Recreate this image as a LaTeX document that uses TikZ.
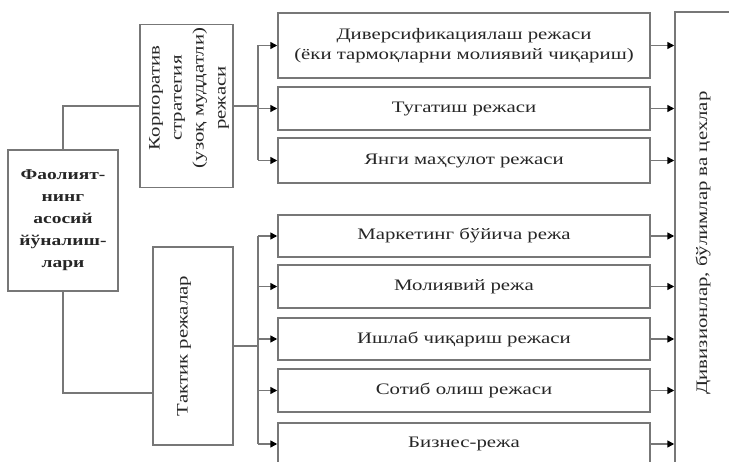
\documentclass[tikz,border=0pt]{standalone}
\usepackage{fontspec}
\setmainfont{Liberation Serif}[FakeStretch=1.3]
\usetikzlibrary{arrows.meta,calc}
\definecolor{ln}{HTML}{777777}
\definecolor{tx}{HTML}{262626}
\begin{document}
\begin{tikzpicture}[x=1pt,y=1pt,
  box/.style={draw=ln,line width=1.5pt,fill=white,text=tx,align=center,inner sep=0pt,
    font=\fontsize{16}{20}\selectfont},
  wide/.style={box,minimum width=372pt},
  vtext/.style={rotate=90,text=tx,align=center,inner sep=0pt,font=\fontsize{16}{22}\selectfont},
  conn/.style={draw=ln,line width=1.5pt},
  arr/.style={conn,-{Triangle[length=7pt,width=7pt,color=black]}}
]
\useasboundingbox (0,0) rectangle (729,-462);

% left box
\node[box,minimum width=110pt,minimum height=141pt,
  font=\bfseries\fontsize{15}{22}\selectfont] (L) at (63,-220.5)
  {Фаолият-\\нинг\\асосий\\йўналиш-\\лари};

% strategic box
\node[box,minimum width=93pt,minimum height=163pt] (C) at (186.5,-106) {};
\node[vtext] (Ct) at (189,-98) {Корпоратив\\стратегия\\(узоқ муддатли)\\режаси};

% tactical box
\node[box,minimum width=80pt,minimum height=198pt] (T) at (193,-346) {};
\node[vtext] (Tt) at (184,-346) {Тактик режалар};

% right box
\node[box,minimum width=60pt,minimum height=458pt] (R) at (705,-241) {};
\node[vtext] (Rt) at (703,-243) {Дивизионлар, бўлимлар ва цехлар};

% plan boxes
\node[wide,minimum height=65pt] (b1) at (464,-45.5)
  {Диверсификациялаш режаси\\(ёки тармоқларни молиявий чиқариш)};
\node[wide,minimum height=43pt] (b2) at (464,-108.5) {Тугатиш режаси};
\node[wide,minimum height=45pt] (b3) at (464,-160.5) {Янги маҳсулот режаси};
\node[wide,minimum height=42pt] (b4) at (464,-236) {Маркетинг бўйича режа};
\node[wide,minimum height=43pt] (b5) at (464,-286.5) {Молиявий режа};
\node[wide,minimum height=42pt] (b6) at (464,-339) {Ишлаб чиқариш режаси};
\node[wide,minimum height=43pt] (b7) at (464,-390.5) {Сотиб олиш режаси};
\node[wide,minimum height=42pt] (b8) at (464,-444) {Бизнес-режа};

% brackets
\coordinate (k) at (258,0);
\draw[conn] (L.north) |- (C.west);
\draw[conn] (L.south) |- ([yshift=-47pt]T.west);
\draw[conn] (C.east) -- (k |- C.east);
\draw[conn] (T.east) -- (k |- T.east);
\draw[conn] (k |- b1.west) -- (k |- b3.west);
\draw[conn] (k |- b4.west) -- (k |- b8.west);
\foreach \b in {b1,b2,b3,b4,b5,b6,b7,b8}{
  \draw[arr] (k |- \b.west) -- (\b.west);
  \draw[arr] (\b.east) -- (R.west |- \b.east);
}
\end{tikzpicture}
\end{document}
